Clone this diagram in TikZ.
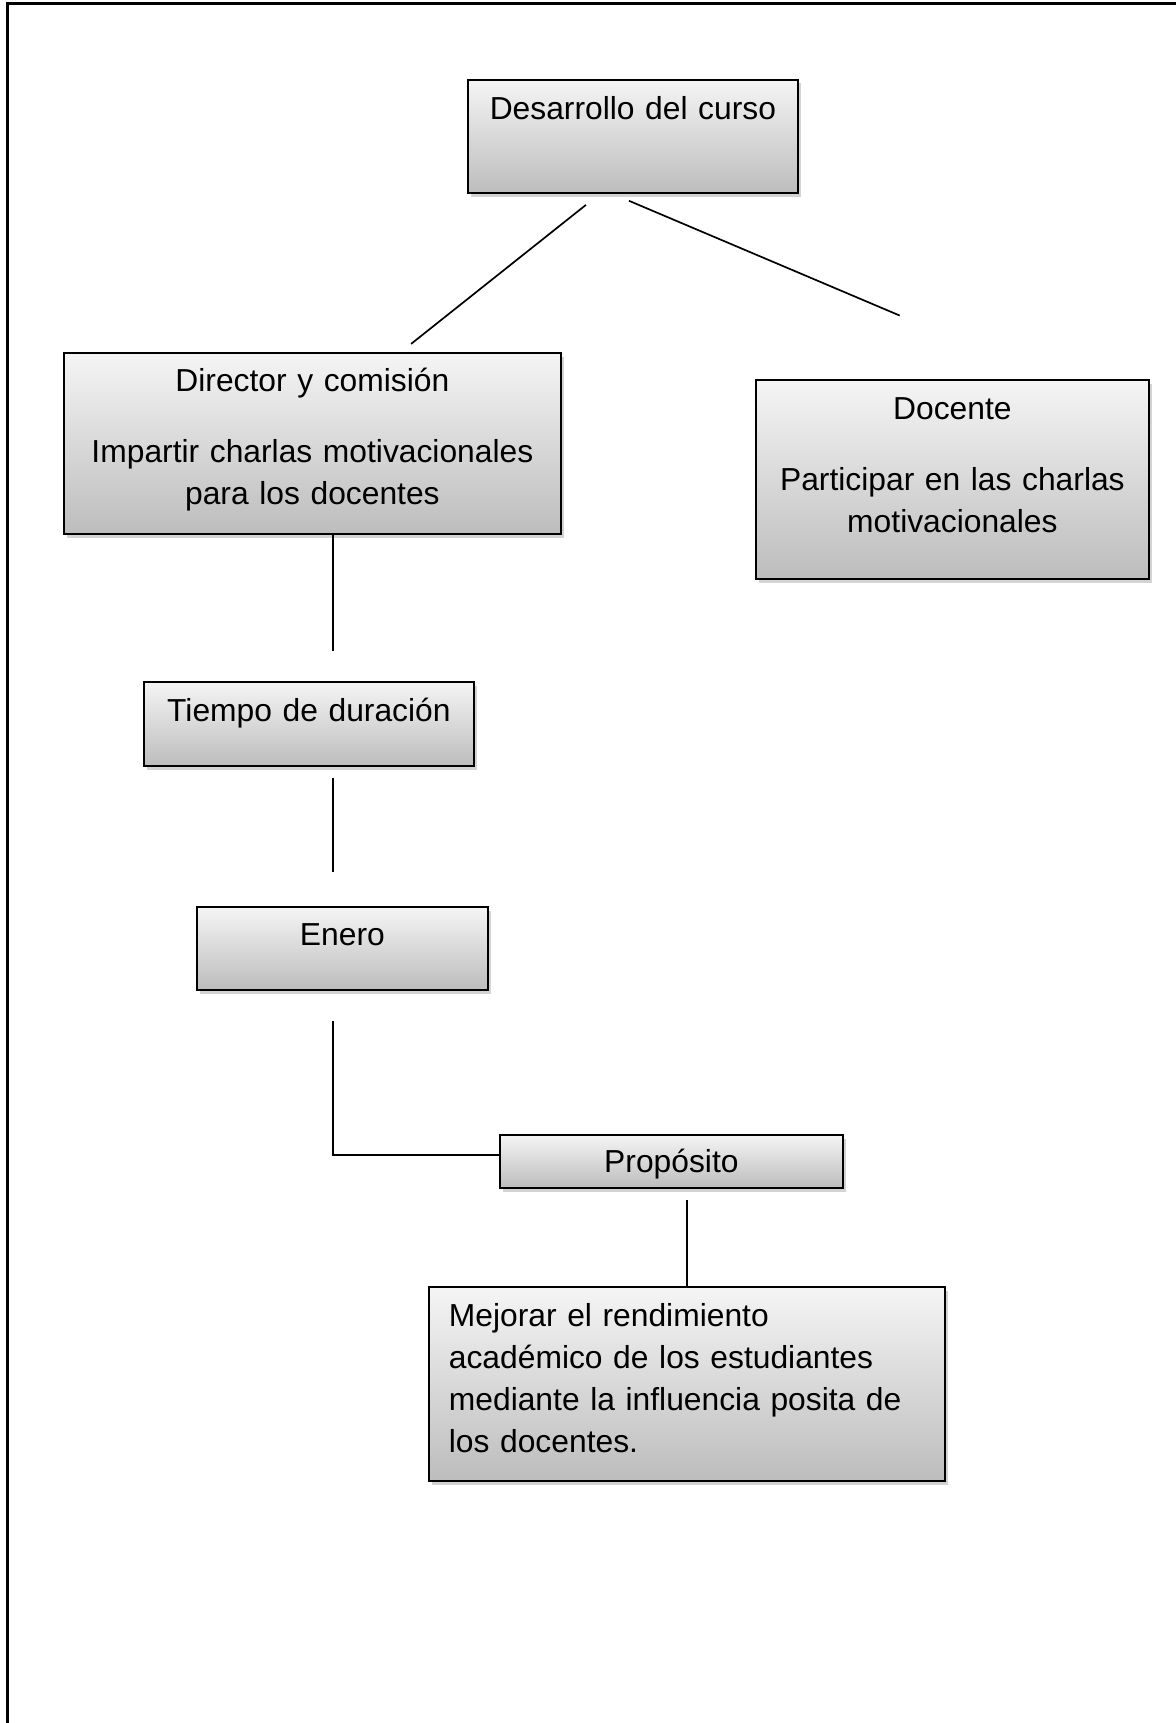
\documentclass[tikz,border=0pt]{standalone}
\usepackage{fontspec}
\setmainfont{Liberation Sans}
\usetikzlibrary{calc,shadows}

\begin{document}
\begin{tikzpicture}[
x=0.5pt, y=-0.5pt,
font=\fontsize{15.9pt}{21pt}\selectfont,
box/.style={draw, line width=0.9pt, top color=white!96!black, bottom color=black!26,
  drop shadow={shadow xshift=1.3pt, shadow yshift=-1.8pt, opacity=0.35},
  align=center, inner xsep=0pt, inner ysep=0pt, anchor=north west},
link/.style={line width=0.85pt}
]
\useasboundingbox (0,0) rectangle (1176,1723);
\draw[line width=1.5pt] (7,1723) -- (7,4) -- (1176,4);

\node[box, text width=165pt, text height=20pt, text depth=36.5pt] (des) at (467,79) {Desarrollo del curso};
\node[box, text width=248.5pt, text height=19.5pt, text depth=71pt] (dir) at (63,352)
  {Director y comisión\\[14.5pt] Impartir charlas motivacionales\\ para los docentes};
\node[box, text width=196.5pt, text height=20pt, text depth=79.5pt] (doc) at (755,379)
  {Docente\\[14.5pt] Participar en las charlas\\ motivacionales};
\node[box, text width=165pt, text height=20pt, text depth=22pt] (tiem) at (143,681) {Tiempo de duración};
\node[box, text width=145.5pt, text height=19.5pt, text depth=22pt] (ene) at (196,906) {Enero};
\node[box, text width=171.5pt, text height=19pt, text depth=7.5pt] (prop) at (499,1134) {Propósito};
\node[box, align=left, inner xsep=10pt, text width=238pt, text height=20pt, text depth=77pt] (mej) at (428,1286)
  {Mejorar el rendimiento\\ académico de los estudiantes\\ mediante la influencia posita de\\ los docentes.};

% lineas
\coordinate (spine) at (333,0);
\coordinate (pbot) at ($(prop.south)+(15.5,0)$);
\draw[link, shorten <=8.9pt, shorten >=6.5pt] ($(des.south)+(-33,0)$) -- ($(dir.north)+(88.5,0)$);
\draw[link, shorten <=8.9pt, shorten >=81.3pt] ($(des.south)+(-20.4,0)$) -- ($(doc.north)+(97,0)$);
\draw[link, shorten >=15pt] (spine |- dir.south) -- (spine |- tiem.north);
\draw[link, shorten <=5.5pt, shorten >=17pt] (spine |- tiem.south) -- (spine |- ene.north);
\draw[link, shorten <=15pt] (spine |- ene.south) |- ([yshift=3.25pt]prop.west);
\draw[link, shorten <=5.5pt] (pbot) -- (pbot |- mej.north);
\end{tikzpicture}
\end{document}
